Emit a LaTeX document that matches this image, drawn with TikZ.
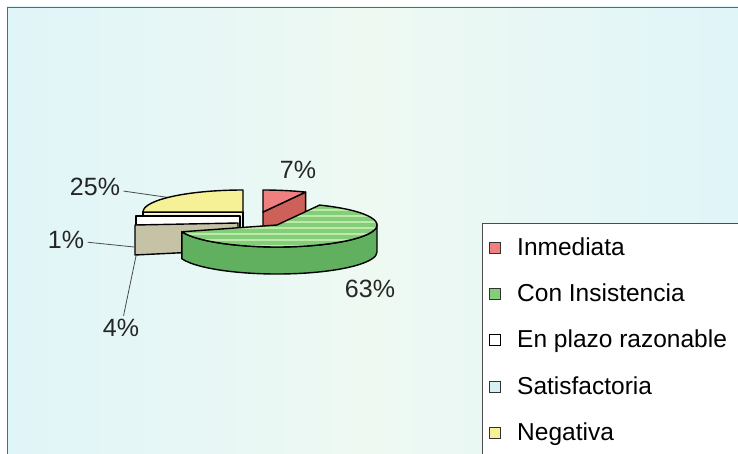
\documentclass[tikz,border=0pt]{standalone}
\usepackage{fontspec}
\setmainfont{Liberation Sans}
\usepackage{tikz}

\definecolor{bgCyan}{RGB}{224,245,248}
\definecolor{bgPale}{RGB}{238,249,242}
\definecolor{inmTop}{RGB}{240,128,128}
\definecolor{inmSide}{RGB}{206,96,90}
\definecolor{conTop}{RGB}{132,206,122}
\definecolor{conStripe}{RGB}{188,234,168}
\definecolor{conSide}{RGB}{96,176,96}
\definecolor{negTop}{RGB}{246,240,150}
\definecolor{negSide}{RGB}{249,245,212}
\definecolor{satSide}{RGB}{198,194,165}
\definecolor{satKey}{RGB}{214,240,243}

\begin{document}
\begin{tikzpicture}[x=1pt,y=1pt,
	slice/.style={draw=black,line width=1.4pt,line join=round},
	pct/.style={font=\fontsize{25}{30}\selectfont,text=black!85},
	leader/.style={draw=black!70,line width=0.8pt},
	key box/.style={draw=black!80,line width=1pt,minimum size=11pt,inner sep=0pt},
	key text/.style={font=\fontsize{24.5}{29}\selectfont,anchor=base west,inner sep=0pt}]
	\useasboundingbox (0,0) rectangle (738,-454);
	\fill[white] (0,0) rectangle (738,-454);
	\shade[left color=bgCyan,right color=bgCyan,middle color=bgPale] (7,-7) rectangle (738,-454);
	\draw[black!60,line width=0.8pt] (7,-454) -- (7,-7) -- (738,-7);
	
	% percentages and leaders
	\node[pct] (l7) at (298,-170) {7\%};
	\node[pct] (l63) at (370,-289) {63\%};
	\node[pct] (l25) at (95,-187) {25\%};
	\node[pct] (l1) at (66,-240) {1\%};
	\node[pct] (l4) at (121,-328) {4\%};
	\coordinate (p25) at (172,-198);
	\coordinate (p1) at (134,-247);
	\coordinate (p4) at (136,-256);
	\draw[leader] (l25) -- (p25);
	\draw[leader] (l1) -- (p1);
	\draw[leader] (l4) -- (p4);
	
	% Negativa
	\filldraw[fill=negSide,slice] (143,-212) rectangle (243,-238);
	\filldraw[fill=negTop,slice] (243,-212) -- (243,-190) arc[start angle=90,end angle=180,x radius=100,y radius=22] -- cycle;
	% En plazo razonable, Satisfactoria
	\filldraw[fill=white,slice] (136,-216) rectangle (240,-240);
	\filldraw[fill=satSide,slice] (135,-225) -- (238,-223) -- (238,-250) -- (135,-255) -- cycle;
	% Inmediata
	\filldraw[fill=inmSide,slice] (263,-212) -- (305.6,-192.1) -- ++(0,-26) -- (263,-238) -- cycle;
	\filldraw[fill=inmTop,slice] (263,-212) -- (263,-190) arc[start angle=90,end angle=64.8,x radius=100,y radius=22] -- cycle;
	% Con Insistencia
	\filldraw[fill=conSide,slice] (377,-225) arc[start angle=0,end angle=-162,x radius=100,y radius=22]
		-- ++(0,-27) arc[start angle=-162,end angle=0,x radius=100,y radius=22] -- cycle;
	\filldraw[fill=conTop,slice,path picture={
			\foreach \y in {204,210,...,252} \draw[conStripe,line width=1.3pt] (170,-\y) -- (390,-\y);
		}] (277,-225) -- ++(64.8:100pt and 22pt) arc[start angle=64.8,end angle=-162,x radius=100,y radius=22] -- cycle;
	
	% legend
	\draw[black!70,line width=0.8pt,fill=white] (482,-223) rectangle (745,-460);
	\node[key box,fill=inmTop] (k1) at (495,-248) {};
	\node[key text] (t1) at (517,-255) {Inmediata};
	\node[key box,fill=conTop] (k2) at (495,-294) {};
	\node[key text] (t2) at (517,-301) {Con Insistencia};
	\node[key box,fill=white,line width=1.8pt,draw=black] (k3) at (495,-340) {};
	\node[key text] (t3) at (517,-347) {En plazo razonable};
	\node[key box,fill=satKey] (k4) at (495,-387) {};
	\node[key text] (t4) at (517,-394) {Satisfactoria};
	\node[key box,fill=negTop] (k5) at (495,-433) {};
	\node[key text] (t5) at (517,-440) {Negativa};
\end{tikzpicture}
\end{document}
